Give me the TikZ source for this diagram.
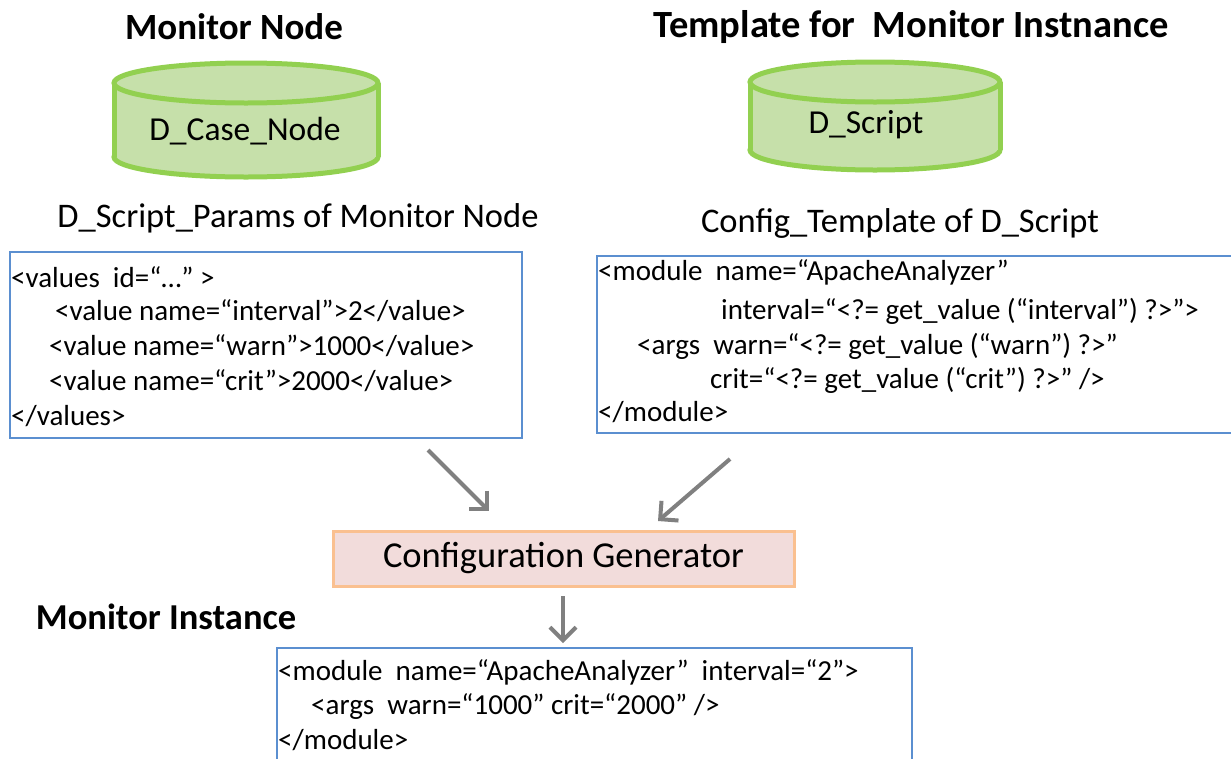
\documentclass[tikz,border=0pt]{standalone}
\usepackage{fontspec}
\setmainfont{Carlito}
\usetikzlibrary{arrows.meta}
\definecolor{cylline}{RGB}{146,208,80}
\definecolor{cylfill}{RGB}{198,224,170}
\definecolor{codeline}{RGB}{91,143,208}
\definecolor{genline}{RGB}{250,192,144}
\definecolor{genfill}{RGB}{242,220,219}
\definecolor{flow}{RGB}{128,128,128}
\tikzset{
  heading/.style={font=\fontsize{37}{44}\selectfont\bfseries, inner sep=0pt},
  caption/.style={font=\fontsize{34.5}{40}\selectfont, inner sep=0pt},
  cyllabel/.style={font=\fontsize{33.5}{40}\selectfont, inner sep=0pt},
  codebox/.style={draw=codeline, line width=1.2pt},
  code/.style={font=\fontsize{29}{35}\selectfont, anchor=west, inner sep=0pt},
  flowarrow/.style={draw=flow, line width=4pt, -{Straight Barb[length=13pt, width=26pt, line width=4pt]}},
  genbox/.style={draw=genline, fill=genfill, line width=3pt, minimum width=461pt, minimum height=55pt, inner sep=0pt, font=\fontsize{36.5}{42}\selectfont},
}
\newcommand{\drumshape}[4]{% left x, right x, top y, bottom y
  \pgfmathsetmacro{\cx}{(#1+#2)/2}
  \pgfmathsetmacro{\rx}{(#2-#1)/2}
  \draw[cylline, fill=cylfill, line width=5pt] (\cx,#4) ellipse [x radius=\rx, y radius=20];
  \fill[cylfill] (#1,#3) rectangle (#2,#4);
  \draw[cylline, line width=5pt] (#1,#3) -- (#1,#4) (#2,#3) -- (#2,#4);
  \draw[cylline, fill=cylfill, line width=5pt] (\cx,#3) ellipse [x radius=\rx, y radius=20];
}
\begin{document}
\begin{tikzpicture}[x=1pt, y=-1pt]
\useasboundingbox (0,0) rectangle (1231,758);

% headings
\node[heading] (hmon) at (234,27) {Monitor Node};
\node[heading, font=\fontsize{38.5}{44}\selectfont\bfseries] (htpl) at (911,27) {Template for\ \ Monitor Instnance};
\node[heading, font=\fontsize{36.5}{44}\selectfont\bfseries] (hinst) at (166,617) {Monitor Instance};

% drums
\drumshape{114}{378}{83}{157}
\node[cyllabel] (dcase) at (245,131) {D\_Case\_Node};
\drumshape{750}{1000}{82}{150}
\node[cyllabel] (dscript) at (866,125) {D\_Script};

% captions
\node[caption] (cap1) at (298,218) {D\_Script\_Params\ of Monitor\ Node};
\node[caption] (cap2) at (900,223) {Config\_Template\ of D\_Script};

% parameter values
\draw[codebox] (10,252) rectangle (522,438);
\node[code] (p1) at (11,277) {<values\ \ id=“…” >};
\node[code] (p2) at (55,311) {<value name=“interval”>2</value>};
\node[code] (p3) at (49,346) {<value name=“warn”>1000</value>};
\node[code] (p4) at (49,381) {<value name=“crit”>2000</value>};
\node[code] (p5) at (11,416) {</values>};

% configuration template (runs on past the right edge)
\draw[codebox] (1232,256) -- (597,256) -- (597,433) -- (1232,433);
\begin{scope}[every node/.append style={font=\fontsize{29.5}{35}\selectfont}]
\node[code] (t1) at (598,272) {<module\ \ name=“ApacheAnalyzer”};
\node[code] (t2) at (721,311) {interval=“<?= get\_value (“interval”) ?>”>};
\node[code] (t3) at (637,346) {<args\ \ warn=“<?= get\_value (“warn”) ?>”};
\node[code] (t4) at (710,380) {crit=“<?= get\_value (“crit”) ?>” />};
\node[code] (t5) at (598,412) {</module>};
\end{scope}

% generator
\node[genbox] (gen) at (563.5,558.5) {Configuration Generator};

% generated instance
\draw[codebox] (277,760) -- (277,648) -- (912,648) -- (912,760);
\node[code] (i1) at (278,672) {<module\ \ name=“ApacheAnalyzer”\ \ interval=“2”>};
\node[code] (i2) at (311,707) {<args\ \ warn=“1000” crit=“2000” />};
\node[code] (i3) at (278,740) {</module>};

% flow arrows
\coordinate (a1s) at (428,450);
\coordinate (a1e) at (489,511);
\coordinate (a2s) at (730,459);
\coordinate (a2e) at (658,521);
\coordinate (a3s) at (563,596);
\coordinate (a3e) at (563,643);
\draw[flowarrow] (a1s) -- (a1e);
\draw[flowarrow] (a2s) -- (a2e);
\draw[flowarrow] (a3s) -- (a3e);
\end{tikzpicture}
\end{document}
